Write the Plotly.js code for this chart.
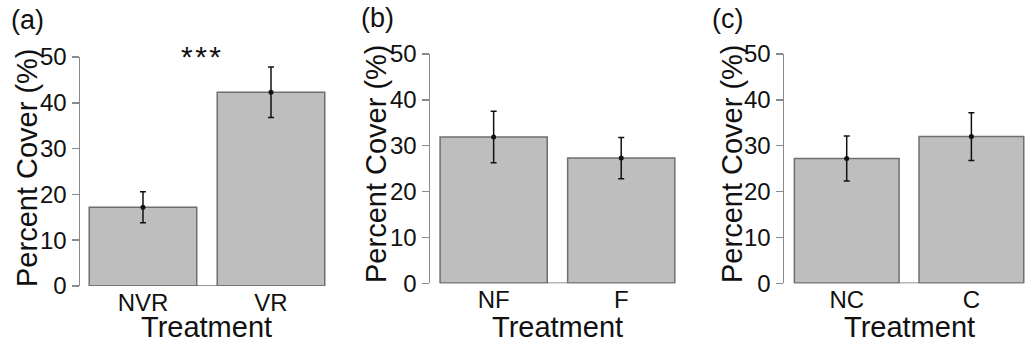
<!DOCTYPE html>
<html>
<head>
<meta charset="utf-8">
<script src="https://cdn.plot.ly/plotly-3.0.1.min.js"></script>
<style>html,body{margin:0;padding:0;background:#fff;}#chart{width:1027px;height:348px;}</style>
</head>
<body>
<div id="chart"></div>
<script>
// Data
const catsA = ["NVR", "VR"];
const meanA = [17.2, 42.3];
const seA = [3.4, 5.5];

const catsB = ["NF", "F"];
const meanB = [31.9, 27.3];
const seB = [5.6, 4.5];

const catsC = ["NC", "C"];
const meanC = [27.2, 32.0];
const seC = [4.9, 5.2];

const panelLabels = ["(a)", "(b)", "(c)"];
const yTitle = "Percent Cover (%)";
const xTitle = "Treatment";
const yTicks = [0, 10, 20, 30, 40, 50];
const signif = "*\u200A*\u200A*";

const FONT = "Liberation Sans, Arial, sans-serif";
const BW = 0.84;
const W = 1027, H = 348;

const panels = [
  {cats: catsA, mean: meanA, se: seA, ax: "", xdom: [80, 335], ytop: 57, ybot: 286, xr: [-0.492, 1.5]},
  {cats: catsB, mean: meanB, se: seB, ax: "2", xdom: [430, 685], ytop: 54, ybot: 283.3, xr: [-0.499, 1.5]},
  {cats: catsC, mean: meanC, se: seC, ax: "3", xdom: [784, 1027], ytop: 54, ybot: 283.3, xr: [-0.503, 1.446]}
];

const traces = [];
const layout = {
  width: W, height: H,
  margin: {l: 0, r: 0, t: 0, b: 0},
  paper_bgcolor: "#fff", plot_bgcolor: "#fff",
  showlegend: false,
  font: {family: FONT, color: "#111"},
  annotations: [], shapes: []
};

const yTitlePos = [[27, 168], [376, 164], [732, 164]];
const labelPos = [[27, 20], [377, 18], [727, 19]];
const xTitleY = 327;

panels.forEach((p, i) => {
  const xa = "x" + p.ax, ya = "y" + p.ax;
  traces.push({
    type: "bar", x: p.cats, y: p.mean, xaxis: xa, yaxis: ya,
    width: BW,
    marker: {color: "#bebebe", line: {color: "#6f6f6f", width: 1.5}},
    error_y: {type: "data", array: p.se, visible: true, color: "#111", thickness: 1.5, width: 3},
    hoverinfo: "none"
  });
  traces.push({
    type: "scatter", mode: "markers", x: p.cats, y: p.mean, xaxis: xa, yaxis: ya,
    marker: {color: "#111", size: 5}, hoverinfo: "none", cliponaxis: false
  });
  layout["xaxis" + p.ax] = {
    domain: [p.xdom[0] / W, p.xdom[1] / W], anchor: ya,
    type: "category", range: p.xr, showgrid: false, zeroline: false, showline: false,
    ticks: "", tickfont: {size: 24, color: "#111", family: FONT}, fixedrange: true
  };
  layout["yaxis" + p.ax] = {
    domain: [1 - p.ybot / H, 1 - p.ytop / H], anchor: xa,
    range: [0, 50], tickvals: yTicks, showgrid: false, zeroline: false,
    showline: true, linecolor: "#8a8a8a", linewidth: 1.5,
    ticks: "outside", ticklen: 7, tickwidth: 1.5, tickcolor: "#8a8a8a",
    tickfont: {size: 24, color: "#111", family: FONT}, fixedrange: true
  };
  // baseline under the bars
  layout.shapes.push({
    type: "line", xref: xa, yref: ya,
    x0: -BW / 2, x1: (p.cats.length - 1) + BW / 2, y0: 0, y1: 0,
    line: {color: "#6f6f6f", width: 1.5}
  });
  // y title
  layout.annotations.push({
    xref: "paper", yref: "paper", x: yTitlePos[i][0] / W, y: 1 - yTitlePos[i][1] / H,
    text: yTitle, textangle: -90, showarrow: false, xanchor: "center", yanchor: "middle",
    font: {size: 29, color: "#111", family: FONT}
  });
  // x title
  layout.annotations.push({
    xref: xa + " domain", yref: "paper", x: ((0 - p.xr[0]) + (p.cats.length - 1 - p.xr[0])) / 2 / (p.xr[1] - p.xr[0]),
    y: 1 - xTitleY / H, text: xTitle, showarrow: false, xanchor: "center", yanchor: "middle",
    font: {size: 29, color: "#111", family: FONT}
  });
  // panel label
  layout.annotations.push({
    xref: "paper", yref: "paper", x: labelPos[i][0] / W, y: 1 - labelPos[i][1] / H,
    text: panelLabels[i], showarrow: false, xanchor: "center", yanchor: "middle",
    font: {size: 27, color: "#111", family: FONT}
  });
});

// significance marker in panel (a)
layout.annotations.push({
  xref: "x", yref: "y", x: 0.45, y: 50, text: signif, showarrow: false,
  xanchor: "center", yanchor: "middle", font: {size: 30, color: "#111", family: FONT}
});

Plotly.newPlot("chart", traces, layout, {displayModeBar: false, staticPlot: true});
</script>
</body>
</html>
